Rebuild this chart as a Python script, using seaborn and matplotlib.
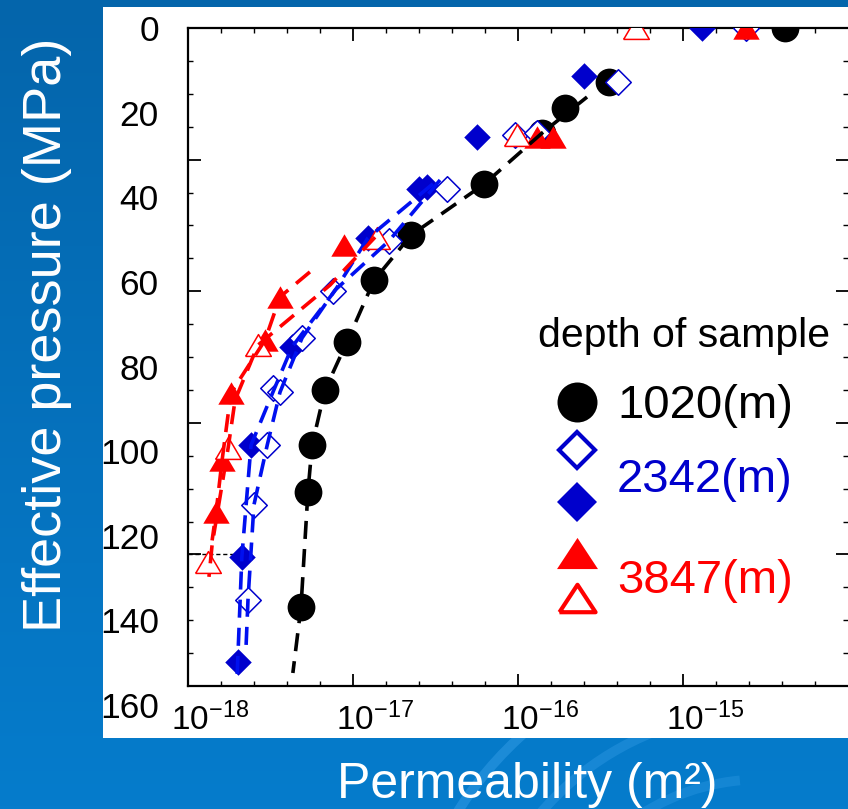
import numpy as np
import matplotlib
matplotlib.use("Agg")
import matplotlib.pyplot as plt
import seaborn as sns
from matplotlib.patches import Rectangle, Arc
from matplotlib.colors import LinearSegmentedColormap
from matplotlib.ticker import FixedLocator, NullFormatter, LogFormatterSciNotation
from matplotlib.transforms import ScaledTranslation

# ---------------- data (permeability m^2, effective pressure MPa) ----------------
k_1020 = [4.15e-15, 3.56e-16, 1.93e-16, 1.40e-16, 6.22e-17, 2.25e-17, 1.34e-17,
          9.2e-18, 6.76e-18, 5.65e-18, 5.33e-18, 4.84e-18]
p_1020 = [0, 12.8, 18.9, 24.8, 36.9, 48.9, 59.6, 74.1, 85.5, 98.5, 109.6, 136.7]

k_2342_filled = [1.30e-15, 2.51e-16, 5.65e-17, 2.81e-17, 2.51e-17, 1.23e-17,
                 4.27e-18, 2.41e-18, 2.12e-18, 2.01e-18]
p_2342_filled = [0, 11.3, 25.7, 37.5, 37.9, 49.6, 75.3, 98.5, 124.9, 149.7]

k_2342_open = [2.41e-15, 4.04e-16, 9.6e-17, 1.30e-16, 3.72e-17, 1.65e-17, 7.59e-18,
               4.91e-18, 3.27e-18, 3.61e-18, 3.02e-18, 2.51e-18, 2.31e-18]
p_2342_open = [0, 12.7, 25.3, 24.8, 37.9, 50.3, 62.0, 73.2, 85.0, 86.0, 98.5, 112.6, 135.0]

k_3847_filled = [2.41e-15, 1.30e-16, 1.63e-16, 8.81e-18, 3.61e-18, 2.93e-18,
                 1.82e-18, 1.61e-18, 1.48e-18]
p_3847_filled = [0, 25.8, 25.8, 51.2, 63.5, 73.7, 86.2, 102.0, 114.3]

k_3847_open = [5.19e-16, 9.86e-17, 1.40e-17, 2.65e-18, 1.75e-18, 1.32e-18]
p_3847_open = [0, 25.3, 49.6, 74.9, 99.2, 126.0]

# dashed trend curves
k_fit_1020 = [2.62e-16, 1.40e-16, 6.22e-17, 2.25e-17, 1.34e-17, 9.2e-18, 6.76e-18,
              5.65e-18, 5.33e-18, 4.84e-18, 4.32e-18]
p_fit_1020 = [16.3, 24.8, 36.9, 48.9, 59.6, 74.1, 85.5, 98.5, 109.6, 136.7, 152.3]

k_fit_2342a = [3.05e-17, 1.23e-17, 7.78e-18, 4.27e-18, 3.27e-18, 2.41e-18, 2.12e-18, 1.98e-18]
p_fit_2342a = [36.8, 49.6, 62.0, 75.3, 86.0, 98.5, 124.9, 154.0]
k_fit_2342b = [3.37e-17, 1.65e-17, 7.78e-18, 4.91e-18, 3.61e-18, 3.02e-18, 2.51e-18,
               2.31e-18, 2.25e-18]
p_fit_2342b = [35.9, 50.3, 61.9, 73.2, 86.0, 98.5, 112.6, 135.0, 145.7]

k_fit_3847a = [5.48e-18, 3.61e-18, 2.93e-18, 1.82e-18, 1.61e-18, 1.48e-18, 1.40e-18]
p_fit_3847a = [57.6, 63.5, 73.7, 86.2, 102.0, 114.3, 121.0]
k_fit_3847b = [1.36e-17, 7.26e-18, 2.65e-18, 1.93e-18, 1.75e-18, 1.40e-18, 1.34e-18]
p_fit_3847b = [49.4, 60.7, 74.9, 87.8, 99.2, 122.0, 129.6]

ref_line_p = 124.3
ref_line_k = [1e-18, 1.87e-18]

xtick_vals = [1e-18, 1e-17, 1e-16, 1e-15]
ytick_labels = [0, 20, 40, 60, 80, 100, 120, 140, 160]
legend_title = "depth of sample"
legend_labels = ["1020(m)", "2342(m)", "3847(m)"]

# ---------------- styling ----------------
BLACK = "#000000"
BLUE = "#0000CC"
BLUE_LINE = "#0010F0"
RED = "#FF0000"

sns.set_theme(style="white")
plt.rcParams['font.family'] = ['Liberation Sans', 'DejaVu Sans']

W, H = 848, 809
fig = plt.figure(figsize=(W / 100, H / 100), dpi=100)


def fx(px):
    return px / W


def fy(py):
    return 1 - py / H


# background gradient + faint arcs + white panel
bg = fig.add_axes([0, 0, 1, 1], zorder=-10)
grad = np.linspace(0, 1, 256).reshape(-1, 1)
cmap = LinearSegmentedColormap.from_list('bg', ['#0465ab', '#067ccc'])
bg.imshow(grad, aspect='auto', cmap=cmap, extent=[0, 1, 0, 1], origin='upper', zorder=0)
for r, a in [(0.42, 0.45), (0.34, 0.35), (0.26, 0.3)]:
    bg.add_patch(Arc((fx(760), fy(1000)), 2 * r, 2 * r * W / H, theta1=95, theta2=170,
                     color='#3aa0ea', lw=7, alpha=a, zorder=1))
bg.add_patch(Rectangle((fx(103), fy(738)), fx(848) - fx(103), fy(7) - fy(738),
                       facecolor='white', edgecolor='none', zorder=2))
bg.set_xlim(0, 1)
bg.set_ylim(0, 1)
bg.axis('off')

# label axes for the pressure numbers
axl = fig.add_axes([fx(188), fy(705), fx(848) - fx(188), fy(28) - fy(705)], frameon=False)
axl.set_ylim(160, 0)
axl.set_yticks(ytick_labels)
axl.set_yticklabels([str(v) for v in ytick_labels])
axl.set_xticks([])
axl.tick_params(axis='y', length=0, pad=21, labelsize=25.5, labelcolor='black')
axl.patch.set_alpha(0)

# main axes
ax = fig.add_axes([fx(188), fy(686), fx(848) - fx(188), fy(28) - fy(686)])
ax.set_facecolor('none')
ax.set_xscale('log')
ymax = (686 - 28) / 4.235

# markers
tri = [(-1, -0.85), (1, -0.85), (0, 0.85), (-1, -0.85)]
sns.scatterplot(x=k_1020, y=p_1020, marker='o', s=20 ** 2, color=BLACK,
                edgecolor=BLACK, linewidth=0, ax=ax, zorder=3)
sns.scatterplot(x=k_2342_filled, y=p_2342_filled, marker='D', s=13.5 ** 2, color=BLUE,
                edgecolor=BLUE, linewidth=0, ax=ax, zorder=3)
sns.scatterplot(x=k_2342_open, y=p_2342_open, marker='D', s=13.0 ** 2, facecolor='white',
                edgecolor=BLUE, linewidth=1.1, ax=ax, zorder=3)
sns.scatterplot(x=k_3847_filled, y=p_3847_filled, marker=tri, s=19 ** 2, color=RED,
                edgecolor=RED, linewidth=0, ax=ax, zorder=3)
sns.scatterplot(x=k_3847_open, y=p_3847_open, marker=tri, s=18.5 ** 2, facecolor='white',
                edgecolor=RED, linewidth=1.1, ax=ax, zorder=3)

# dashed curves
dash = (0, (5, 2.8))
for kk, pp, col in [(k_fit_1020, p_fit_1020, BLACK),
                    (k_fit_2342a, p_fit_2342a, BLUE_LINE),
                    (k_fit_2342b, p_fit_2342b, BLUE_LINE),
                    (k_fit_3847a, p_fit_3847a, RED),
                    (k_fit_3847b, p_fit_3847b, RED)]:
    sns.lineplot(x=kk, y=pp, sort=False, estimator=None, color=col, linewidth=2.6,
                 linestyle=dash, ax=ax, zorder=4)

ax.hlines(ref_line_p, ref_line_k[0], ref_line_k[1], colors='black',
          linestyles=(0, (3, 2)), linewidth=1.0, zorder=2)

ax.set_xlim(1e-18, 1e-14)
ax.set_ylim(ymax, 0)
ax.set_xlabel('')
ax.set_ylabel('')

# ticks
ax.xaxis.set_major_locator(FixedLocator(xtick_vals))
ax.xaxis.set_major_formatter(LogFormatterSciNotation())
ax.xaxis.set_minor_locator(FixedLocator([10 ** (-18 + 0.2 * i) for i in range(21) if i % 5]))
ax.xaxis.set_minor_formatter(NullFormatter())
ax.yaxis.set_major_locator(FixedLocator([ymax * i / 5 for i in range(6)]))
ax.yaxis.set_minor_locator(FixedLocator([ymax * i / 20 for i in range(21) if i % 4]))
ax.yaxis.set_major_formatter(NullFormatter())
ax.yaxis.set_minor_formatter(NullFormatter())
ax.tick_params(which='both', direction='in', top=True, right=True, bottom=True, left=True,
               color='black')
ax.tick_params(which='major', length=9, width=1.3)
ax.tick_params(which='minor', length=3.5, width=1.0)
ax.tick_params(axis='x', which='major', labelsize=24, pad=12, labelcolor='black')
ax.tick_params(axis='y', labelleft=False, labelright=False)
for s in ['left', 'bottom', 'top']:
    ax.spines[s].set_color('black')
    ax.spines[s].set_linewidth(1.6)
ax.spines['right'].set_visible(False)
ax.grid(False)

offset = ScaledTranslation(0.22, 0, fig.dpi_scale_trans)
for lbl in ax.get_xticklabels():
    lbl.set_transform(lbl.get_transform() + offset)

# legend (hand-laid like the original)
fig.text(fx(538), fy(347), legend_title, fontsize=29.5, color='black', ha='left', va='baseline')
fig.text(fx(617), fy(418), legend_labels[0], fontsize=34, color=BLACK, ha='left', va='baseline')
fig.text(fx(617), fy(492), legend_labels[1], fontsize=34, color=BLUE, ha='left', va='baseline')
fig.text(fx(617), fy(593), legend_labels[2], fontsize=34, color=RED, ha='left', va='baseline')
tri_leg = [(-1, -0.76), (1, -0.76), (0, 0.76), (-1, -0.76)]
leg_marks = [
    (577, 402, 'o', 28.8, BLACK, BLACK, 0),
    (577, 450, 'D', 18.3, 'white', BLUE, 3.0),
    (577, 502, 'D', 20.4, BLUE, BLUE, 0),
    (577, 553, tri_leg, 29.5, RED, RED, 0),
    (577, 598, tri_leg, 26.0, 'white', RED, 3.0),
]
for px, py, mk, ms, fc, ec, mew in leg_marks:
    ax.plot([fx(px)], [fy(py)], marker=mk, ms=ms, mfc=fc, mec=ec, mew=mew,
            linestyle='none', transform=fig.transFigure, clip_on=False, zorder=5)

# axis titles on the blue frame
fig.text(fx(47), fy(335), 'Effective pressure (MPa)', rotation=90, fontsize=39,
         color='white', ha='center', va='center')
fig.text(fx(337), fy(798), 'Permeability (m²)', fontsize=36, color='white',
         ha='left', va='baseline')

fig.savefig('out.png', dpi=100)
